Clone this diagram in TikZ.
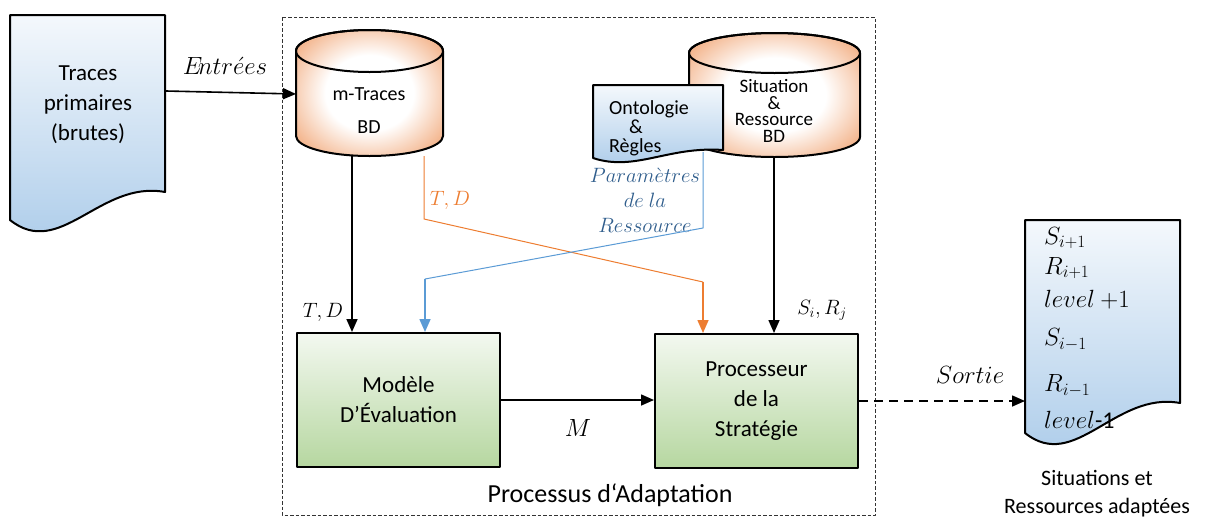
\documentclass[tikz,border=0pt]{standalone}
\usepackage{fontspec}
\setmainfont{Carlito}
\usetikzlibrary{arrows.meta}
\definecolor{docTop}{HTML}{F4F8FC}
\definecolor{docBot}{HTML}{A9CAE9}
\definecolor{grTop}{HTML}{F3F8F0}
\definecolor{grBot}{HTML}{B6D7A0}
\definecolor{orEdge}{HTML}{EE9257}
\definecolor{orLine}{HTML}{ED7D31}
\definecolor{blLine}{HTML}{5B9BD5}
\definecolor{parBlue}{HTML}{2F5D8C}
\pgfdeclareradialshading{cylsh}{\pgfpoint{0bp}{0bp}}{color(0bp)=(white); color(15bp)=(white); color(32bp)=(orEdge!75); color(50bp)=(orEdge)}
\begin{document}
\begin{tikzpicture}[x=1pt,y=-1pt,line join=round,
  outl/.style={draw=black,line width=2pt},
  docfill/.style={outl,top color=docTop,bottom color=docBot},
  cylfill/.style={outl,shading=cylsh},
  gbox/.style={outl,top color=grTop,bottom color=grBot,minimum width=203pt,minimum height=134pt,align=center,font=\fontsize{23}{30}\selectfont,inner sep=0pt},
  arr/.style={line width=1.6pt,-{Triangle[length=13pt,width=11pt]}},
  thinor/.style={draw=orLine,line width=1pt},
  thinbl/.style={draw=blLine,line width=1pt},
  lbl/.style={font=\fontsize{22}{26}\selectfont,inner sep=0pt},
  frame/.style={draw=black!80,line width=0.8pt,dash pattern=on 3.5pt off 2pt}]
\useasboundingbox (0,0) rectangle (1205,520);
% frame
\draw[frame] (282,17) rectangle (875,515);
% Traces primaires document
\draw[docfill] (10,15) -- (165,15) -- (165,192) .. controls (100,180) and (60,260) .. (10,220) -- cycle;
\node[align=center,font=\fontsize{23}{30}\selectfont] (traces) at (88,105) {Traces\\primaires\\(brutes)};
% m-Traces cylinder
\draw[cylfill] (296,51) -- (296,136) arc[start angle=180,end angle=0,x radius=73.5,y radius=20] -- (443,51) arc[start angle=0,end angle=-180,x radius=73.5,y radius=21] -- cycle;
\draw[outl] (369.5,51) ellipse[x radius=73.5,y radius=21];
\node[align=center,font=\fontsize{20}{33}\selectfont] (mtraces) at (369,111) {m-Traces\\BD};
% Situation cylinder
\draw[cylfill] (689,53) -- (689,137) arc[start angle=180,end angle=0,x radius=85.5,y radius=20] -- (860,53) arc[start angle=0,end angle=-180,x radius=85.5,y radius=20] -- cycle;
\draw[outl] (774.5,53) ellipse[x radius=85.5,y radius=20];
\node[align=center,font=\fontsize{19}{16.5}\selectfont] (situation) at (774,111) {Situation\\\&\\Ressource\\BD};
% Ontologie document
\draw[docfill] (593,85) -- (723,85) -- (723,150) .. controls (668,146) and (635,172) .. (593,158) -- cycle;
\node[align=left,anchor=west,inner sep=0pt,font=\fontsize{20}{19}\selectfont] (onto) at (609,128) {Ontologie\\\hspace*{20pt}\&\\Règles};
% parameter label
\node[align=center,text=parBlue,font=\fontsize{22}{25}\selectfont] (param) at (645,200) {$Param\grave{e}tres$\\$de\ la$\\$Ressource$};
% boxes
\node[gbox] (eval) at (398.5,400) {Modèle\\D’Évaluation};
\node[gbox] (proc) at (756.5,401) {Processeur\\de la\\Stratégie};
% output document
\draw[docfill] (1025,220) -- (1180,220) -- (1180,403) .. controls (1115,391) and (1075,473) .. (1025,433) -- cycle;
\begin{scope}[font=\fontsize{24}{28}\selectfont]
\node[anchor=west,inner sep=0pt] (o1) at (1044,238) {$S_{i+1}$};
\node[anchor=west,inner sep=0pt] (o2) at (1044,268) {$R_{i+1}$};
\node[anchor=west,inner sep=0pt] (o3) at (1044,300) {$level\ {+}1$};
\node[anchor=west,inner sep=0pt] (o4) at (1044,340) {$S_{i-1}$};
\node[anchor=west,inner sep=0pt] (o5) at (1044,386) {$R_{i-1}$};
\node[anchor=west,inner sep=0pt] (o6) at (1044,420) {$level$-1};
\end{scope}
\node[align=center,font=\fontsize{22}{28}\selectfont] (outcap) at (1097,494) {Situations et\\Ressources adaptées};
\node[font=\fontsize{26}{30}\selectfont] (proccap) at (610,495) {Processus d‘Adaptation};
% connection points
\coordinate (trOut) at (166,91);
\coordinate (mtIn) at (296,94);
\coordinate (mtB) at (352,156);
\coordinate (mtO) at (424,156);
\coordinate (oBend) at (424,219);
\coordinate (oKnee) at (703,282);
\coordinate (sitB) at (774,157);
\coordinate (onB) at (703,152);
\coordinate (bBend) at (703,228);
\coordinate (bKnee) at (425,279);
\coordinate (outIn) at (1025,401);
% connectors
\draw[arr] (trOut) -- (mtIn);
\node[lbl,font=\fontsize{24}{28}\selectfont] (entrees) at (225,66) {$E\!ntr\acute{e}es$};
\draw[arr] (mtB) -- (mtB |- eval.north);
\node[lbl] (td1) at (323,312) {$T,D$};
\draw[arr] (sitB) -- (sitB |- proc.north);
\node[lbl] (siRj) at (822,310) {$S_i,R_j$};
\draw[thinor] (mtO) -- (oBend) -- (oKnee);
\draw[arr,draw=orLine,fill=orLine] (oKnee) -- (oKnee |- proc.north);
\node[lbl,text=orLine] (td2) at (450,200) {$T,D$};
\draw[thinbl] (onB) -- (bBend) -- (bKnee);
\draw[arr,draw=blLine,fill=blLine] (bKnee) -- (bKnee |- eval.north);
\draw[arr] (eval.east) -- (proc.west |- eval.east);
\node[lbl,font=\fontsize{24}{28}\selectfont] (mlab) at (578,428) {$M$};
\draw[arr,dash pattern=on 9pt off 6pt] (proc.east |- outIn) -- (outIn);
\node[lbl,font=\fontsize{23}{28}\selectfont] (sortie) at (970,375) {$Sortie$};
\end{tikzpicture}
\end{document}
